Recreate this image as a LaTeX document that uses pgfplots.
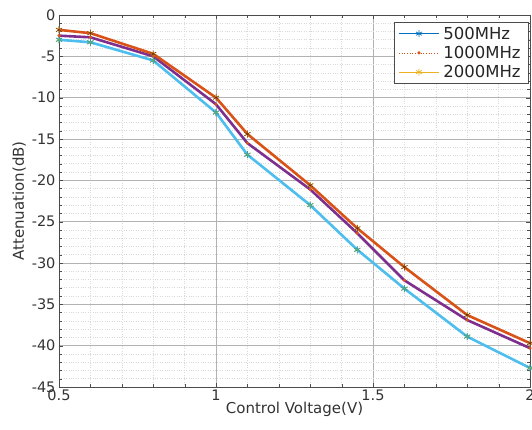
\documentclass[border=0pt]{standalone}
\usepackage{pgfplots}
\pgfplotsset{compat=1.18}
\usepackage{fontspec}
\setmainfont{DejaVu Sans}
\definecolor{mblue}{rgb}{0,0.447,0.741}
\definecolor{morange}{rgb}{0.85,0.325,0.098}
\definecolor{myellow}{rgb}{0.929,0.694,0.125}
\definecolor{mpurple}{rgb}{0.494,0.184,0.556}
\definecolor{mgreen}{rgb}{0.466,0.674,0.188}
\definecolor{mcyan}{rgb}{0.301,0.745,0.933}
\begin{document}
\begin{tikzpicture}
\useasboundingbox (-59pt,-43pt) rectangle (473pt,387pt);
\begin{axis}[
  at={(0pt,0pt)}, anchor=south west,
  scale only axis, width=471pt, height=372pt,
  xmin=0.5, xmax=2, ymin=-45, ymax=0,
  xtick={0.5,1,1.5,2}, xticklabels={0.5,1,1.5,2},
  ytick={0,-5,-10,-15,-20,-25,-30,-35,-40,-45},
  yticklabels={0,-5,-10,-15,-20,-25,-30,-35,-40,-45},
  minor x tick num=4, minor y tick num=4,
  grid=both,
  major grid style={gray!60, line width=0.6pt},
  minor grid style={gray!30, dotted, line width=0.6pt},
  axis line style={black!70, line width=0.6pt},
  tick style={black!70},
  tick align=inside,
  ticklabel style={font=\fontsize{14.5}{16}\selectfont, text=black!80},
  xticklabel style={yshift=1pt},
  xlabel={Control Voltage(V)}, ylabel={Attenuation(dB)},
  label style={font=\fontsize{15}{17}\selectfont, text=black!80},
  xlabel style={yshift=5pt},
  ylabel style={yshift=-1pt},
  legend style={at={(0.9975,0.981)}, anchor=north east,
    font=\fontsize{16.5}{18}\selectfont, text=black!85, draw=black!70, fill=white,
    inner xsep=4pt, inner ysep=3pt, row sep=2.5pt,
    nodes={inner xsep=4pt, inner ysep=1.5pt},
    cells={anchor=west}},
  legend cell align=left,
  legend image code/.code={
    \draw[#1] (0pt,0pt) -- (40pt,0pt);
    \draw[#1, only marks] plot coordinates {(20pt,0pt)};
  },
]
% measured series (thin, underneath)
\addplot[mblue, line width=0.7pt, mark=asterisk, mark size=3.5pt] coordinates {
(0.5,-3.0) (0.6,-3.3) (0.8,-5.5) (1.0,-11.8) (1.1,-16.9) (1.3,-23.0) (1.45,-28.4) (1.6,-33.1) (1.8,-38.9) (2.0,-42.7)};
\addlegendentry{500MHz}
\addplot[morange, line width=0.7pt, dotted, mark=*, mark size=1.2pt, mark options={solid}] coordinates {
(0.5,-2.5) (0.6,-2.7) (0.8,-5.0) (1.0,-10.8) (1.1,-15.5) (1.3,-21.1) (1.45,-26.4) (1.6,-32.1) (1.8,-36.9) (2.0,-40.3)};
\addlegendentry{1000MHz}
\addplot[myellow, line width=0.7pt, mark=asterisk, mark size=3.5pt] coordinates {
(0.5,-1.8) (0.6,-2.2) (0.8,-4.7) (1.0,-10.0) (1.1,-14.4) (1.3,-20.6) (1.45,-25.8) (1.6,-30.5) (1.8,-36.3) (2.0,-39.7)};
\addlegendentry{2000MHz}
% dense (thick) curves
\addplot[mcyan, line width=2.6pt, forget plot] coordinates {
(0.5,-3.0) (0.6,-3.3) (0.8,-5.5) (1.0,-11.8) (1.1,-16.9) (1.3,-23.0) (1.45,-28.4) (1.6,-33.1) (1.8,-38.9) (2.0,-42.7)};
\addplot[mpurple, line width=2.6pt, forget plot] coordinates {
(0.5,-2.5) (0.6,-2.7) (0.8,-5.0) (1.0,-10.8) (1.1,-15.5) (1.3,-21.1) (1.45,-26.4) (1.6,-32.1) (1.8,-36.9) (2.0,-40.3)};
\addplot[morange, line width=2.6pt, forget plot] coordinates {
(0.5,-1.8) (0.6,-2.2) (0.8,-4.7) (1.0,-10.0) (1.1,-14.4) (1.3,-20.6) (1.45,-25.8) (1.6,-30.5) (1.8,-36.3) (2.0,-39.7)};
% star marks on top
\addplot[only marks, mgreen!70!mcyan, mark=asterisk, mark size=3.5pt, line width=0.6pt, forget plot] coordinates {
(0.5,-3.0) (0.6,-3.3) (0.8,-5.5) (1.0,-11.8) (1.1,-16.9) (1.3,-23.0) (1.45,-28.4) (1.6,-33.1) (1.8,-38.9) (2.0,-42.7)};
\addplot[only marks, black!50!morange, mark=asterisk, mark size=3.5pt, line width=0.5pt, forget plot] coordinates {
(0.5,-1.8) (0.6,-2.2) (0.8,-4.7) (1.0,-10.0) (1.1,-14.4) (1.3,-20.6) (1.45,-25.8) (1.6,-30.5) (1.8,-36.3) (2.0,-39.7)};
\end{axis}
\end{tikzpicture}
\end{document}
